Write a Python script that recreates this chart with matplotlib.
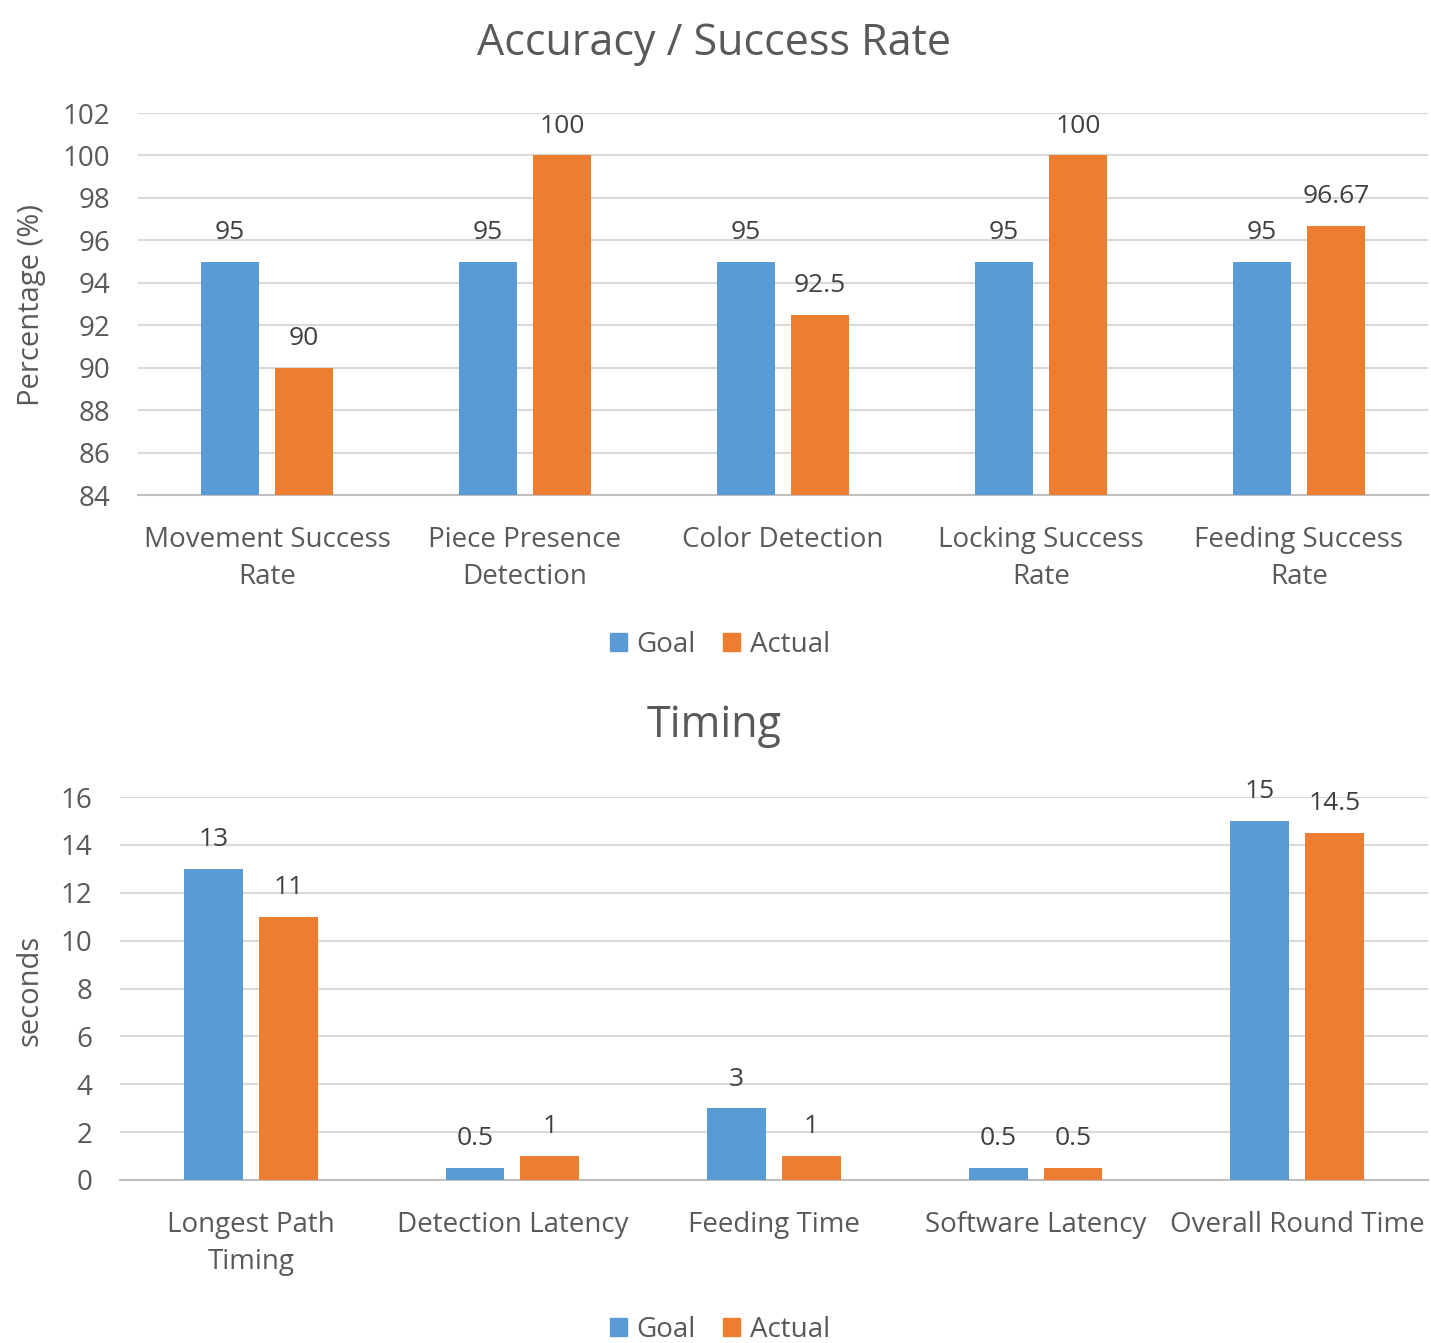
import matplotlib.pyplot as plt
import numpy as np
from matplotlib.patches import Patch

# data
acc_categories = ["Movement Success\nRate", "Piece Presence\nDetection", "Color Detection",
                  "Locking Success\nRate", "Feeding Success\nRate"]
acc_goal = [95, 95, 95, 95, 95]
acc_actual = [90, 100, 92.5, 100, 96.67]
acc_ticks = [84, 86, 88, 90, 92, 94, 96, 98, 100, 102]

time_categories = ["Longest Path\nTiming", "Detection Latency", "Feeding Time",
                   "Software Latency", "Overall Round Time"]
time_goal = [13, 0.5, 3, 0.5, 15]
time_actual = [11, 1, 1, 0.5, 14.5]
time_ticks = [0, 2, 4, 6, 8, 10, 12, 14, 16]

BLUE = '#5b9bd5'
ORANGE = '#ed7d31'
TEXT = '#595959'
GRID = '#d9d9d9'

plt.rcParams['font.family'] = ['Open Sans', 'DejaVu Sans']

W, H = 1431, 1343
fig = plt.figure(figsize=(W / 100, H / 100), dpi=100)


def px_axes(x0, y0, x1, y1):
    return fig.add_axes([x0 / W, 1 - y1 / H, (x1 - x0) / W, (y1 - y0) / H])


def draw(ax, cats, goal, actual, ticks, ylim):
    x = np.arange(len(cats))
    bw = 0.225
    off = 0.143
    b1 = ax.bar(x - off, goal, bw, color=BLUE, zorder=3)
    b2 = ax.bar(x + off, actual, bw, color=ORANGE, zorder=3)
    for bars, vals in ((b1, goal), (b2, actual)):
        for r, v in zip(bars, vals):
            ax.annotate('%g' % v, (r.get_x() + r.get_width() / 2, v), xytext=(0, 12),
                        textcoords='offset points', ha='center', va='bottom',
                        fontsize=19, color='#404040')
    ax.set_xlim(-0.5, len(cats) - 0.5)
    ax.set_ylim(*ylim)
    ax.set_yticks(ticks)
    ax.set_xticks(x)
    ax.set_xticklabels(cats, fontsize=20, color=TEXT, linespacing=1.45)
    ax.tick_params(axis='y', labelsize=20, labelcolor=TEXT, length=0, pad=20)
    ax.tick_params(axis='x', length=0, pad=22)
    ax.yaxis.grid(True, color=GRID, linewidth=1.5, zorder=0)
    for s in ('top', 'right', 'left'):
        ax.spines[s].set_visible(False)
    ax.spines['bottom'].set_color('#bfbfbf')
    ax.spines['bottom'].set_linewidth(1.5)


ax1 = px_axes(138, 113, 1428, 495)
draw(ax1, acc_categories, acc_goal, acc_actual, acc_ticks, (84, 102))

ax2 = px_axes(120, 797, 1428, 1180)
draw(ax2, time_categories, time_goal, time_actual, time_ticks, (0, 16))

fig.text(32 / W, 1 - 305 / H, 'Percentage (%)', rotation=90, ha='center', va='center',
         fontsize=21, color=TEXT)
fig.text(30 / W, 1 - 990 / H, 'seconds', rotation=90, ha='center', va='center',
         fontsize=21, color=TEXT)

fig.text(714 / W, 1 - 44 / H, 'Accuracy / Success Rate', ha='center', va='center',
         fontsize=31, color=TEXT)
fig.text(714 / W, 1 - 726 / H, 'Timing', ha='center', va='center',
         fontsize=31, color=TEXT)

handles = [Patch(color=BLUE, label='Goal'), Patch(color=ORANGE, label='Actual')]
for yc in (645, 1330):
    fig.legend(handles=handles, loc='center', bbox_to_anchor=(720 / W, 1 - yc / H),
               ncol=2, frameon=False, fontsize=20, labelcolor=TEXT,
               handlelength=0.6, handleheight=0.6, handletextpad=0.35, columnspacing=1.0)

fig.savefig('out.png', dpi=100)
